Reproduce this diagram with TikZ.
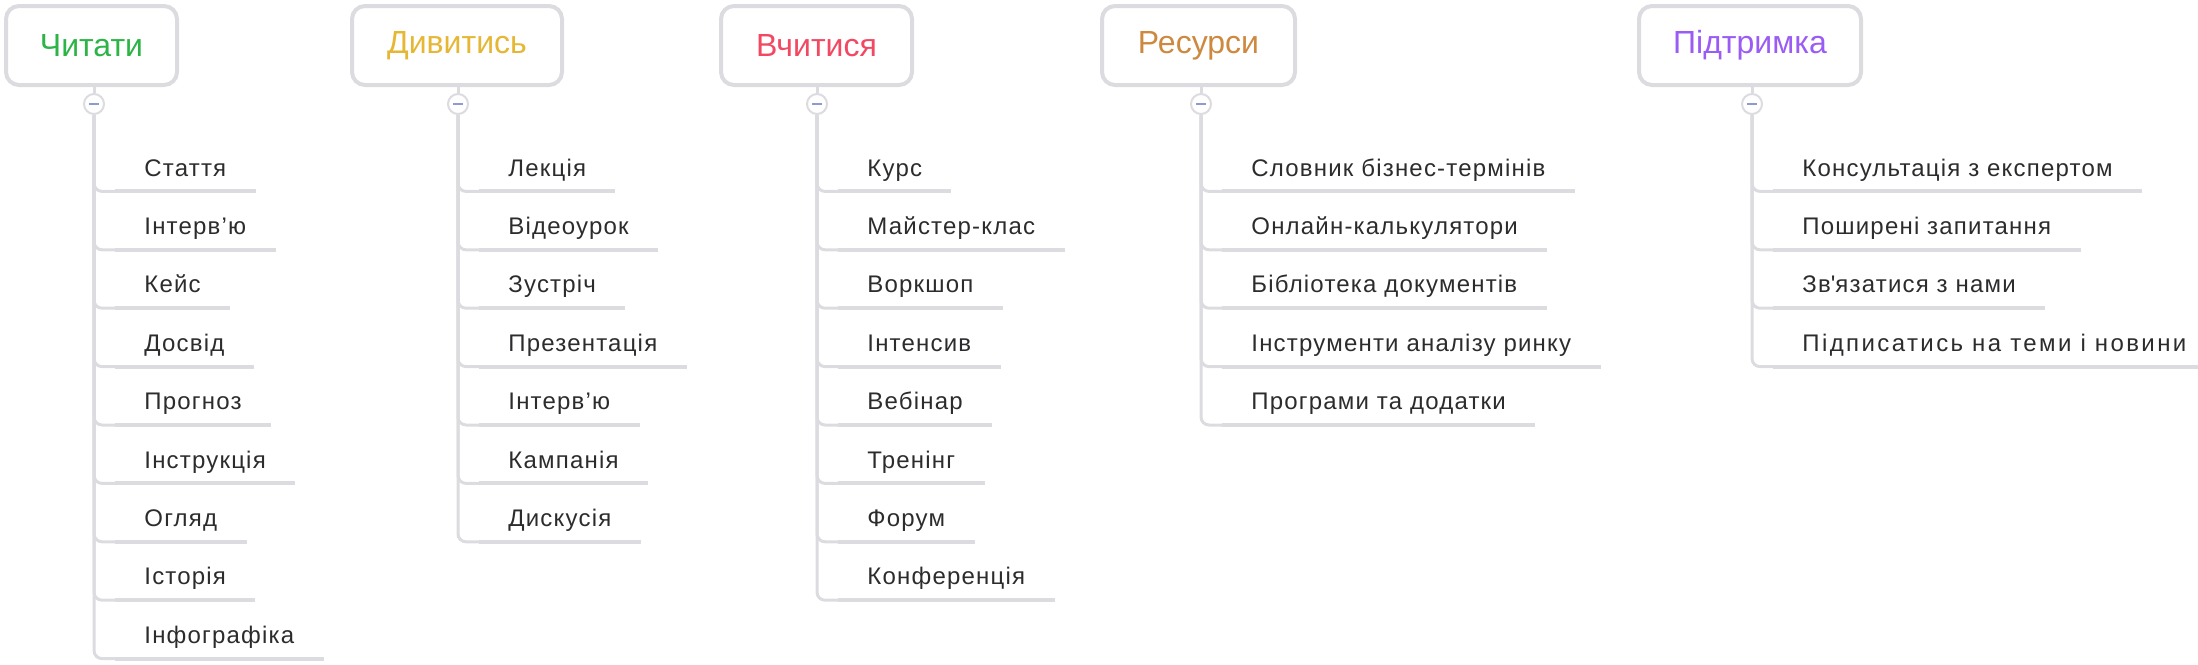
\documentclass[tikz,border=0pt]{standalone}
\usepackage{fontspec}
\setmainfont{Liberation Sans}
\newfontfamily\itemfont{Liberation Sans}[LetterSpace=5]
\newcommand\widetrack[1]{{\addfontfeature{LetterSpace=10}#1}}
\definecolor{linec}{HTML}{DCDCE0}
\definecolor{textc}{HTML}{2C2C2E}
\definecolor{minusc}{HTML}{8E9BD0}
\definecolor{cgreen}{HTML}{2DB446}
\definecolor{cyellow}{HTML}{E6B734}
\definecolor{cred}{HTML}{F24862}
\definecolor{corange}{HTML}{CD8A3F}
\definecolor{cpurple}{HTML}{9A5CF5}
\tikzset{
  head/.style={draw=linec, line width=2pt, rounded corners=6.5pt, fill=white,
    minimum height=39.5pt, inner sep=0pt, font=\fontsize{16}{19}\selectfont},
  toggle/.style={circle, draw=linec, line width=1pt, fill=white, minimum size=10pt, inner sep=0pt,
    path picture={\draw[minusc, line width=1pt] ([xshift=-2.5pt]path picture bounding box.center) -- ([xshift=2.5pt]path picture bounding box.center);}},
  item/.style={anchor=base west, inner xsep=14.5pt, inner ysep=0pt, text depth=7.5pt,
    text=textc, font=\itemfont\fontsize{12}{14}\selectfont},
  conn/.style={draw=linec, line width=1.5pt, rounded corners=4pt},
  uline/.style={draw=linec, line width=2pt},
  stub/.style={draw=linec, line width=1.5pt},
}
\begin{document}
\begin{tikzpicture}[x=0.5pt, y=0.5pt]
\useasboundingbox (0,0) rectangle (2198,-664);
% headers
\node[head, text=cgreen, minimum width=85.5pt] (h1) at (91.5,-45.5) {Читати};
\node[head, text=cyellow, minimum width=105pt] (h2) at (457,-45.5) {Дивитись};
\node[head, text=cred, minimum width=95.5pt] (h3) at (816.5,-45.5) {Вчитися};
\node[head, text=corange, minimum width=96.5pt] (h4) at (1198.5,-45.5) {Ресурси};
\node[head, text=cpurple, minimum width=111pt] (h5) at (1750,-45.5) {Підтримка};
% toggles
\node[toggle] (t1) at (94,-104) {};
\node[toggle] (t2) at (458,-104) {};
\node[toggle] (t3) at (817,-104) {};
\node[toggle] (t4) at (1201,-104) {};
\node[toggle] (t5) at (1752,-104) {};
\foreach \k in {1,...,5} {
  \draw[stub] (t\k.north) -- (t\k.north |- h\k.south);
}
% column 1
\foreach \t [count=\i from 0] in {Стаття,Інтерв’ю,Кейс,Досвід,Прогноз,Інструкція,Огляд,Історія,Інфографіка} {
  \node[item] (a\i) at (115,{-(176+58.4*\i)}) {\t};
  \draw[conn] (t1.south) |- (a\i.south west);
  \draw[uline] (a\i.south west) -- (a\i.south east);
}
% column 2
\foreach \t [count=\i from 0] in {Лекція,Відеоурок,Зустріч,Презентація,Інтерв’ю,Кампанія,Дискусія} {
  \node[item] (b\i) at (479,{-(176+58.4*\i)}) {\t};
  \draw[conn] (t2.south) |- (b\i.south west);
  \draw[uline] (b\i.south west) -- (b\i.south east);
}
% column 3
\foreach \t [count=\i from 0] in {Курс,Майстер-клас,Воркшоп,Інтенсив,Вебінар,Тренінг,Форум,Конференція} {
  \node[item] (c\i) at (838,{-(176+58.4*\i)}) {\t};
  \draw[conn] (t3.south) |- (c\i.south west);
  \draw[uline] (c\i.south west) -- (c\i.south east);
}
% column 4
\foreach \t [count=\i from 0] in {Словник бізнес-термінів,Онлайн-калькулятори,Бібліотека документів,Інструменти аналізу ринку,Програми та додатки} {
  \node[item] (d\i) at (1222,{-(176+58.4*\i)}) {\t};
  \draw[conn] (t4.south) |- (d\i.south west);
  \draw[uline] (d\i.south west) -- (d\i.south east);
}
% column 5
\foreach \t [count=\i from 0] in {Консультація з експертом,Поширені запитання,Зв\textquotesingle язатися з нами,\widetrack{Підписатись на теми і новини}} {
  \node[item] (e\i) at (1773,{-(176+58.4*\i)}) {\t};
  \draw[conn] (t5.south) |- (e\i.south west);
  \draw[uline] (e\i.south west) -- (e\i.south east);
}
\end{tikzpicture}
\end{document}
